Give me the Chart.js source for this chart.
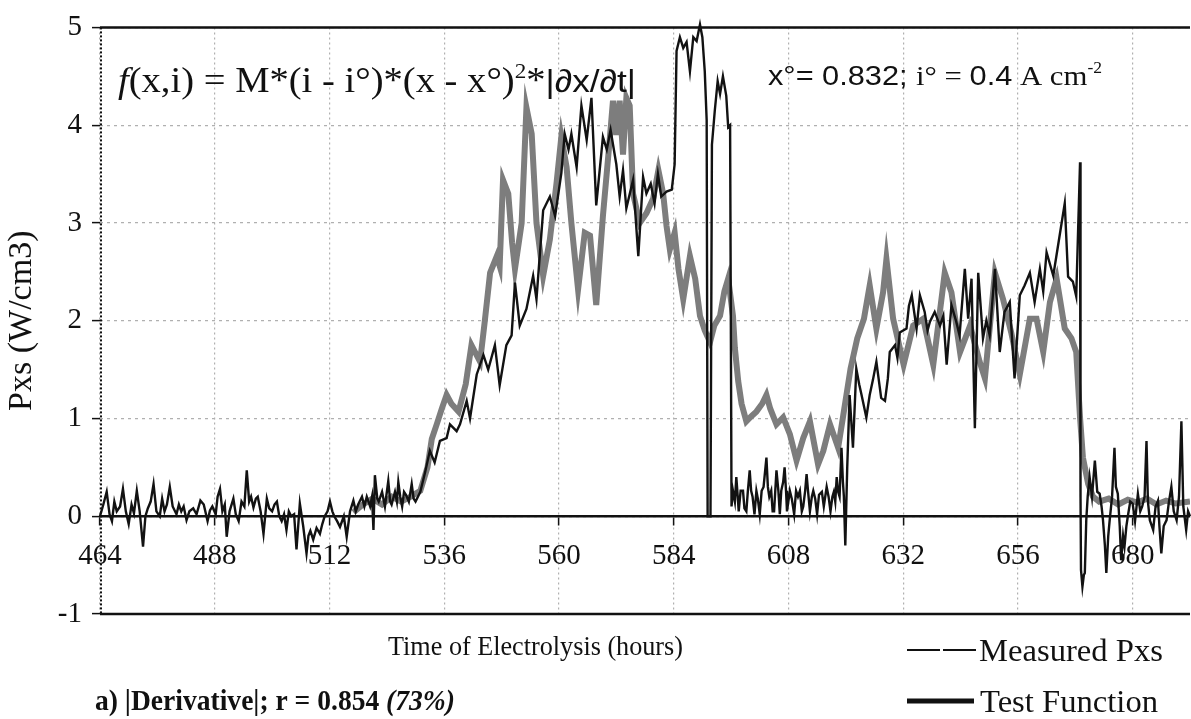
<!DOCTYPE html>
<html>
<head>
<meta charset="utf-8">
<title>Pxs vs time of electrolysis</title>
<script src="https://cdn.jsdelivr.net/npm/chart.js@4.4.1/dist/chart.umd.min.js"></script>
<style>
  html, body { margin: 0; padding: 0; background: #fff; }
  #pxsChart { display: block; }
</style>
</head>
<body>
<canvas id="pxsChart" width="1191" height="719"></canvas>
<script>
// hours of electrolysis / measured excess power (W/cm3)
var measuredTime = [
  464, 464.7, 465.4, 466, 466.5, 467, 467.5, 468.2, 468.8, 469.4, 470, 470.6, 471.1, 471.7, 472.3, 473,
  473.5, 474, 474.6, 475.2, 475.8, 476.5, 477, 477.5, 478, 478.6, 479.2, 480, 480.5, 481, 481.5, 482.1,
  482.7, 483.5, 484.2, 485, 485.7, 486.5, 487, 487.5, 488.2, 488.6, 489.1, 489.6, 490.1, 490.5, 491.1, 491.9,
  492.4, 493, 493.6, 494.2, 494.7, 495.2, 495.6, 496.1, 496.6, 497, 497.6, 498.2, 498.9, 499.4, 500, 500.5,
  501, 501.5, 502, 502.5, 503, 503.5, 504, 504.6, 505.1, 505.8, 506.5, 507.2, 507.6, 508, 508.6, 509.3,
  510, 510.5, 511, 511.6, 512.1, 512.6, 513, 513.6, 514.2, 515, 515.6, 516.3, 517, 517.5, 518, 518.8,
  519.3, 519.8, 520.5, 520.9, 521.2, 521.5, 522, 522.3, 523, 523.6, 524.3, 524.7, 525, 525.7, 526.1, 526.4,
  526.8, 527.2, 527.6, 528, 528.6, 529.2, 529.6, 530, 530.5, 531, 532, 533, 534, 535.1, 536.5, 537.2,
  538.6, 539.3, 540.7, 541.4, 542.8, 544.2, 545.2, 546.6, 547.6, 549, 550.1, 550.8, 551.8, 553.2, 554.6, 555.3,
  556.7, 558.1, 559.2, 560.5, 561.2, 562, 562.6, 563.7, 564.7, 565.8, 566.8, 567.8, 569.2, 570, 570.8, 572,
  572.7, 573.4, 574.1, 575.5, 576.6, 577.6, 578.3, 579.2, 580, 580.7, 581.4, 582.5, 583.6, 584.2, 584.6, 585.3,
  586, 586.7, 587.4, 588.1, 588.8, 589.5, 590, 590.5, 590.9, 591.1, 591.7, 592, 592.6, 593.2, 593.7, 594.3,
  595, 595.4, 595.8, 596.1, 596.4, 596.8, 597.1, 597.4, 597.6, 598, 598.5, 598.8, 599.2, 599.5, 599.9, 600.2,
  600.5, 600.9, 601.3, 601.6, 602, 602.4, 602.8, 603.4, 603.7, 604, 604.4, 604.7, 605, 605.5, 605.9, 606.2,
  606.5, 606.9, 607.2, 607.5, 607.7, 608.3, 608.7, 609.2, 609.6, 610, 610.4, 610.8, 611.1, 611.5, 611.8, 612.1,
  612.5, 612.9, 613.2, 613.6, 614, 614.4, 615, 615.4, 616, 616.4, 616.8, 617.2, 617.5, 617.8, 618.1, 618.4,
  618.7, 619.1, 619.4, 619.6, 619.9, 620.3, 620.8, 621.5, 622.2, 622.8, 623.3, 624.3, 625, 625.7, 626.4, 627.4,
  628.2, 628.8, 629.2, 630.3, 630.8, 631.3, 632.7, 633.2, 633.8, 634.8, 635.5, 636.5, 637.1, 637.6, 638.6, 639.7,
  640.4, 641.1, 642.1, 643.1, 643.8, 644.9, 645.6, 646.3, 647, 647.7, 648.7, 649.4, 650.1, 651.2, 652.2, 653.2,
  654.3, 655.3, 656.4, 657.4, 658.5, 659.5, 660.6, 661.3, 662, 663.4, 664.5, 665.8, 666.5, 667.5, 668.2, 669,
  669.1, 669.2, 669.5, 669.8, 670, 670.3, 670.6, 671, 671.5, 672.1, 672.6, 673.1, 673.5, 673.8, 674.2, 674.5,
  674.9, 675.2, 675.7, 676.2, 676.5, 676.9, 677.3, 677.6, 678, 678.3, 678.7, 679, 679.5, 680, 680.5, 681.1,
  681.6, 682, 682.5, 682.9, 683.2, 683.6, 684.3, 684.8, 685.3, 685.6, 686, 686.5, 687.1, 687.6, 688.1, 688.6,
  689.2, 689.7, 690.2, 690.6, 691.2, 691.6, 692
];
var measuredPxs = [
  0.0, 0.12, 0.25, 0.02, -0.05, 0.15, 0.05, 0.1, 0.28, 0.05, -0.08, 0.12, 0.03, 0.26, 0.05, -0.31,
  0.0, 0.08, 0.15, 0.33, 0.05, 0.0, 0.18, 0.05, 0.12, 0.3, 0.1, 0.02, 0.12, 0.05, 0.1, -0.04,
  0.05, 0.08, 0.02, 0.16, 0.12, -0.05, 0.06, 0.1, 0.02, 0.2, 0.28, 0.05, 0.12, -0.21, 0.05, 0.18,
  0.02, -0.05, 0.15, 0.1, 0.47, 0.15, 0.2, 0.09, 0.18, 0.2, 0.05, -0.18, 0.18, 0.08, 0.05, 0.12,
  0.15, 0.0, -0.05, 0.02, -0.14, 0.05, 0.0, 0.02, -0.34, 0.13, -0.1, -0.38, -0.2, -0.15, -0.24, -0.12,
  -0.18, -0.08, 0.0, 0.05, 0.15, 0.05, 0.0, -0.05, -0.11, 0.0, -0.21, 0.05, 0.16, 0.05, 0.12, 0.2,
  0.1, 0.2, 0.1, 0.2, -0.14, 0.42, 0.18, 0.15, 0.25, 0.1, 0.36, 0.15, 0.12, 0.25, 0.15, 0.35,
  0.2, 0.1, 0.25, 0.22, 0.15, 0.33, 0.18, 0.15, 0.2, 0.25, 0.45, 0.67, 0.55, 0.77, 0.8, 0.94,
  0.87, 0.94, 1.18, 1.0, 1.45, 1.65, 1.5, 1.75, 1.34, 1.75, 1.85, 2.39, 1.95, 2.12, 2.46, 2.22,
  3.13, 3.27, 3.07, 3.51, 3.91, 3.75, 3.91, 3.57, 4.2, 3.85, 4.28, 3.18, 3.88, 3.75, 3.95, 3.6,
  3.27, 3.54, 3.15, 3.44, 2.66, 3.47, 3.3, 3.4, 3.2, 3.5, 3.27, 3.32, 3.34, 3.6, 4.76, 4.9,
  4.79, 4.85, 4.55, 4.9, 4.86, 5.03, 4.9, 4.55, 4.05, 0.0, 0.0, 3.8, 4.15, 4.45, 4.32, 4.5,
  4.3, 3.98, 4.0, 0.1, 0.26, 0.15, 0.4, 0.2, 0.05, 0.26, 0.26, 0.08, 0.05, 0.25, 0.47, 0.26,
  0.2, 0.02, 0.26, 0.18, 0.02, 0.26, 0.3, 0.6, 0.3, 0.2, 0.26, 0.05, 0.05, 0.47, 0.26, 0.02,
  0.26, 0.35, 0.5, 0.26, 0.05, 0.26, 0.18, 0.02, 0.26, 0.2, 0.26, 0.05, 0.1, 0.26, 0.43, 0.26,
  0.05, 0.2, 0.26, 0.18, 0.02, 0.22, 0.25, 0.1, 0.3, 0.2, 0.05, 0.2, 0.25, 0.15, 0.4, 0.25,
  0.2, 0.7, 0.35, 0.2, -0.3, 0.5, 1.24, 0.7, 1.51, 1.35, 1.24, 1.01, 1.24, 1.4, 1.58, 1.21,
  1.18, 1.41, 1.68, 1.75, 1.62, 1.88, 1.92, 2.15, 2.26, 1.92, 2.26, 2.09, 1.9, 1.99, 2.09, 1.95,
  2.05, 1.55, 2.16, 1.99, 1.85, 2.53, 2.02, 2.43, 0.9, 2.49, 1.82, 2.0, 1.85, 2.53, 1.68, 2.09,
  2.19, 1.41, 2.26, 2.36, 2.49, 2.19, 2.53, 2.3, 2.7, 2.46, 2.8, 3.2, 2.45, 2.4, 2.25, 3.62,
  0.2, -0.55, -0.72, -0.6, -0.58, -0.04, 0.2, 0.4, 0.2, 0.57, 0.25, 0.23, 0.1, -0.04, -0.3, -0.58,
  -0.2, -0.04, 0.2, 0.7, 0.3, 0.23, -0.1, -0.45, -0.2, -0.31, -0.1, 0.0, 0.15, 0.13, -0.05, 0.23,
  0.05, 0.1, 0.2, 0.77, 0.15, -0.04, -0.14, 0.1, 0.16, -0.1, -0.38, -0.1, -0.04, 0.15, 0.3, 0.05,
  -0.04, 0.2, 0.97, 0.1, -0.14, 0.05, 0.0
];

// test function f(x,i)
var testTime = [
  517, 519, 521, 523, 525, 527, 529, 531, 532.5, 533.4, 534.5, 535.5, 536.5, 537.5, 539,
  540.5, 541.7, 543.5, 544.5, 545.6, 547, 547.6, 548.3, 549.4, 550.2, 550.8, 552.2, 553.2, 554.3, 555.3, 556.7,
  558.1, 559.5, 560.5, 561.6, 562.6, 564, 565.4, 566.5, 567.8, 569.2, 570.6, 571.3, 572, 572.7, 573.4, 574.1,
  574.8, 575.5, 576.9, 578.3, 579.7, 580.8, 581.8, 582.5, 583.2, 584.2, 585, 586, 587.4, 588.5, 589.5, 590.5,
  591.6, 592.5, 593.7, 594.6, 595.4, 596.4, 596.8, 597.5, 598.2, 599.2, 600.2, 601.3, 602.5, 603.4, 604.2, 605.5,
  606.9, 608.3, 609.7, 611.1, 612.5, 614.2, 615.3, 616.7, 618.4, 619.4, 621, 622.4, 623.8, 625, 626.4, 627.8,
  628.5, 629.9, 632.1, 634.1, 636.2, 638.3, 640.7, 642.1, 643.9, 646, 648, 649.1, 651.2, 652.9, 654.6, 656.4,
  658.5, 659.9, 661.3, 662.7, 664.1, 665.8, 667.2, 668.2, 669, 669.6, 670.7, 671.7, 673, 675, 677, 679,
  681, 683, 685, 687, 689, 692
];
var testValue = [
  0.04, 0.12, 0.18, 0.12, 0.2, 0.15, 0.2, 0.26, 0.5, 0.79, 0.95, 1.1, 1.24, 1.15, 1.07,
  1.35, 1.75, 1.58, 2.0, 2.49, 2.66, 2.56, 3.44, 3.3, 2.8, 2.53, 3.0, 4.18, 3.91, 3.0, 2.46,
  2.83, 3.41, 3.88, 3.57, 3.0, 2.32, 2.9, 2.87, 2.16, 3.07, 3.84, 4.25, 3.9, 4.25, 3.7, 4.28,
  4.2, 3.3, 3.0, 3.1, 3.25, 3.54, 3.3, 2.97, 2.73, 2.9, 2.53, 2.22, 2.66, 2.43, 2.05, 1.9,
  1.78, 1.95, 2.05, 2.3, 2.43, 2.05, 1.72, 1.38, 1.15, 0.97, 1.02, 1.07, 1.15, 1.24, 1.1, 0.94,
  1.01, 0.84, 0.57, 0.8, 0.97, 0.53, 0.67, 0.94, 0.7, 1.01, 1.51, 1.82, 2.02, 2.36, 1.92, 2.29,
  2.63, 2.02, 1.55, 1.95, 2.02, 1.55, 2.49, 2.29, 1.68, 1.95, 1.58, 1.41, 2.49, 2.22, 1.88, 1.45,
  2.02, 2.02, 1.68, 2.19, 2.43, 1.92, 1.82, 1.68, 1.01, 0.6, 0.33, 0.2, 0.15, 0.18, 0.12, 0.17,
  0.14, 0.18, 0.12, 0.16, 0.13, 0.15
];

var hourTicks = [464, 488, 512, 536, 560, 584, 608, 632, 656, 680];
var pxsTicks = [-1, 0, 1, 2, 3, 4, 5];

function zip(xs, ys) {
  return xs.map(function (x, i) { return { x: x, y: ys[i] }; });
}

var SERIF = '"Liberation Serif", "Times New Roman", serif';
var SANS = '"Liberation Sans", Arial, sans-serif';

// draw a run of differently styled pieces, stretched to fit a given width
function fitRuns(ctx, parts, x, baseline, width) {
  var total = 0;
  parts.forEach(function (p) { ctx.font = p.font; total += ctx.measureText(p.text).width; });
  var sx = width ? width / total : 1;
  ctx.save();
  ctx.translate(x, baseline);
  ctx.scale(sx, 1);
  ctx.fillStyle = '#111';
  ctx.textBaseline = 'alphabetic';
  ctx.textAlign = 'left';
  var cx = 0;
  parts.forEach(function (p) {
    ctx.font = p.font;
    ctx.fillText(p.text, cx, p.dy || 0);
    cx += ctx.measureText(p.text).width;
  });
  ctx.restore();
}

var framePlugin = {
  id: 'frame',
  beforeDatasetsDraw: function (chart) {
    var ctx = chart.ctx, a = chart.chartArea;
    ctx.save();
    ctx.strokeStyle = '#111';
    ctx.lineWidth = 2.5;
    ctx.beginPath();
    ctx.moveTo(a.left, a.top); ctx.lineTo(a.right, a.top);
    ctx.moveTo(a.left, a.bottom); ctx.lineTo(a.right, a.bottom);
    ctx.stroke();
    ctx.lineWidth = 2;
    ctx.setLineDash([2, 2]);
    ctx.beginPath();
    ctx.moveTo(a.left + 1, a.top); ctx.lineTo(a.left + 1, a.bottom);
    ctx.stroke();
    ctx.restore();
  },
  afterDraw: function (chart) {
    var ctx = chart.ctx;
    // formula and parameters
    fitRuns(ctx, [
      { text: 'f', font: 'italic 35px ' + SERIF },
      { text: '(x,i) = M*(i - i\u00b0)*(x - x\u00b0)', font: '35px ' + SERIF },
      { text: '2', font: '21px ' + SERIF, dy: -14 },
      { text: '*', font: '35px ' + SERIF },
      { text: '|\u2202x/\u2202t|', font: '32px ' + SANS }
    ], 118, 92, 518);
    fitRuns(ctx, [
      { text: 'x\u00b0= 0.832; ', font: '28px ' + SANS },
      { text: 'i\u00b0 = ', font: '28px ' + SERIF },
      { text: '0.4', font: '28px ' + SANS },
      { text: ' A cm', font: '28px ' + SERIF },
      { text: '-2', font: '16px ' + SERIF, dy: -12 }
    ], 768, 85, 334);
    // axis title and caption
    fitRuns(ctx, [{ text: 'Time of Electrolysis (hours)', font: '27px ' + SERIF }], 388, 655, 295);
    fitRuns(ctx, [
      { text: 'a) |Derivative|; r = 0.854 ', font: 'bold 29px ' + SERIF },
      { text: '(73%)', font: 'bold italic 29px ' + SERIF }
    ], 95, 710, 360);
    // legend
    ctx.save();
    ctx.strokeStyle = '#111';
    ctx.lineWidth = 2;
    ctx.beginPath();
    ctx.moveTo(907, 650); ctx.lineTo(940, 650);
    ctx.moveTo(943, 650); ctx.lineTo(976, 650);
    ctx.stroke();
    ctx.lineWidth = 5;
    ctx.beginPath();
    ctx.moveTo(907, 701); ctx.lineTo(974, 701);
    ctx.stroke();
    ctx.restore();
    fitRuns(ctx, [{ text: 'Measured Pxs', font: '31px ' + SERIF }], 979, 661, 184);
    fitRuns(ctx, [{ text: 'Test Function', font: '31px ' + SERIF }], 980, 712, 178);
  }
};

var ctx = document.getElementById('pxsChart').getContext('2d');
var chart = new Chart(ctx, {
  type: 'line',
  data: {
    datasets: [
      {
        label: 'Measured Pxs',
        data: zip(measuredTime, measuredPxs),
        borderColor: '#121212',
        borderWidth: 2.4,
        pointRadius: 0,
        tension: 0,
        clip: false
      },
      {
        label: 'Test Function',
        data: zip(testTime, testValue),
        borderColor: 'rgb(125,125,125)',
        borderWidth: 6,
        pointRadius: 0,
        tension: 0
      }
    ]
  },
  options: {
    responsive: false,
    animation: false,
    events: [],
    layout: { padding: { top: 22, right: 1, bottom: 105, left: 0 } },
    plugins: {
      legend: { display: false },
      tooltip: { enabled: false }
    },
    scales: {
      x: {
        type: 'linear',
        min: 464,
        max: 692,
        position: { y: 0 },
        afterBuildTicks: function (s) { s.ticks = hourTicks.map(function (v) { return { value: v }; }); },
        ticks: {
          font: { family: SERIF, size: 29 },
          color: '#111',
          padding: 15,
          maxRotation: 0,
          autoSkip: false
        },
        grid: { color: '#b0b0b0', lineWidth: 1.2, tickLength: 8, tickColor: '#111', tickWidth: 1.5 },
        border: { color: '#111', width: 2.5, dash: [2, 3] }
      },
      y: {
        min: -1,
        max: 5,
        afterBuildTicks: function (s) { s.ticks = pxsTicks.map(function (v) { return { value: v }; }); },
        afterFit: function (s) { s.width = 100; },
        ticks: {
          font: { family: SERIF, size: 29 },
          color: '#111',
          padding: 10
        },
        title: {
          display: true,
          text: 'Pxs (W/cm3)',
          font: { family: SERIF, size: 34 },
          color: '#111',
          padding: { top: 2, bottom: 0 }
        },
        grid: { color: '#b0b0b0', lineWidth: 1.2, tickLength: 8, tickColor: '#111', tickWidth: 1.5 },
        border: { display: false, dash: [3, 4] }
      }
    }
  },
  plugins: [framePlugin]
});
</script>
</body>
</html>
